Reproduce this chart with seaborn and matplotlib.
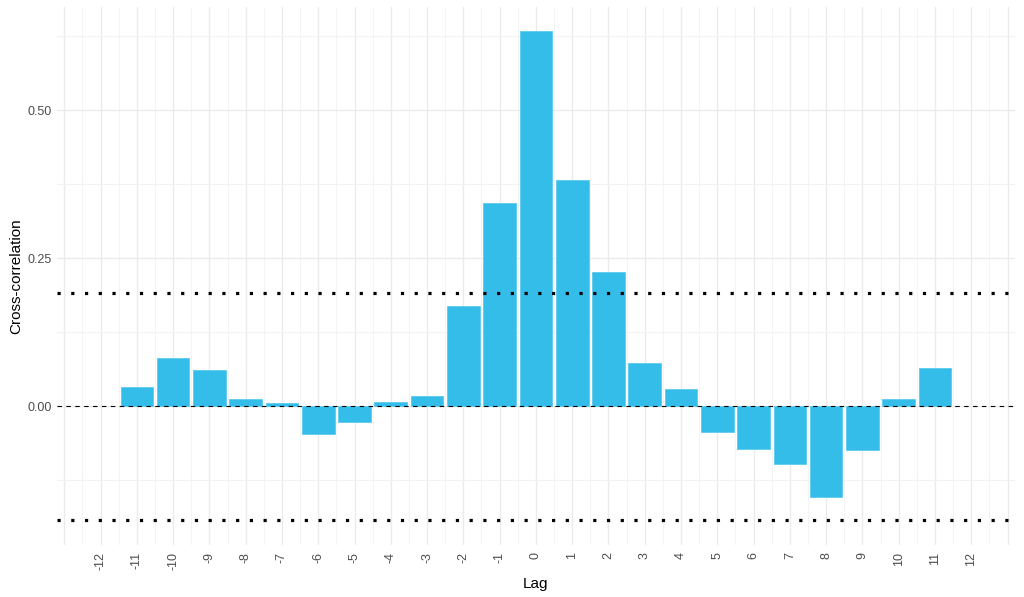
import numpy as np
import pandas as pd
import matplotlib
matplotlib.use("Agg")
import matplotlib.pyplot as plt
import seaborn as sns

lags = list(range(-11, 12))
ccf_values = [0.032, 0.081, 0.062, 0.012, 0.006, -0.047, -0.026, 0.007, 0.017,
              0.169, 0.343, 0.633, 0.382, 0.226, 0.073, 0.030, -0.044, -0.072,
              -0.097, -0.153, -0.073, 0.013, 0.064]
tick_lags = list(range(-12, 13))
ci_bound = 0.192
y_ticks = [0.0, 0.25, 0.50]
y_tick_labels = ["0.00", "0.25", "0.50"]

df = pd.DataFrame({"Lag": lags, "ccf": ccf_values})

sns.set_theme(style="white")
plt.rcParams["font.family"] = ["Liberation Sans", "DejaVu Sans"]

fig = plt.figure(figsize=(10.24, 5.97), dpi=100)
ax = fig.add_axes([0.0557, 0.0871, 0.9353, 0.9012])

# grid
for x in np.arange(-13, 13.01, 1):
    ax.axvline(x, color="#EBEBEB", lw=1.0, zorder=0)
for x in np.arange(-12.5, 12.51, 1):
    ax.axvline(x, color="#F2F2F2", lw=0.6, zorder=0)
for y in [-0.125, 0.125, 0.375, 0.625]:
    ax.axhline(y, color="#F2F2F2", lw=0.8, zorder=0)
for y in y_ticks:
    ax.axhline(y, color="#EBEBEB", lw=1.0, zorder=0)

# bars (continuous x)
ax.bar(df["Lag"], df["ccf"], width=0.9, color="#35BDEA",
       edgecolor="#5CCBF0", linewidth=0.6, zorder=2)

ax.axhline(0, color="black", lw=0.8, linestyle=(0, (4, 4)), zorder=3)
for b in (ci_bound, -ci_bound):
    ax.axhline(b, color="black", lw=2.3, linestyle=(0, (1, 3.3)),
               dash_capstyle="butt", zorder=3)

ax.set_xlim(-13.2, 13.2)
ax.set_ylim(-0.234, 0.674)
ax.set_xticks(tick_lags)
ax.set_xticklabels([str(t) for t in tick_lags], rotation=90,
                   color="#4D4D4D", fontsize=9)
ax.set_yticks(y_ticks)
ax.set_yticklabels(y_tick_labels, color="#4D4D4D", fontsize=9)
ax.tick_params(axis="x", length=0, pad=5)
ax.tick_params(axis="y", length=0, pad=4)
ax.set_xlabel("Lag", fontsize=11, color="black", labelpad=5)
ax.set_ylabel("Cross-correlation", fontsize=11, color="black", labelpad=3)
for s in ax.spines.values():
    s.set_visible(False)

fig.savefig("out.png", dpi=100)
